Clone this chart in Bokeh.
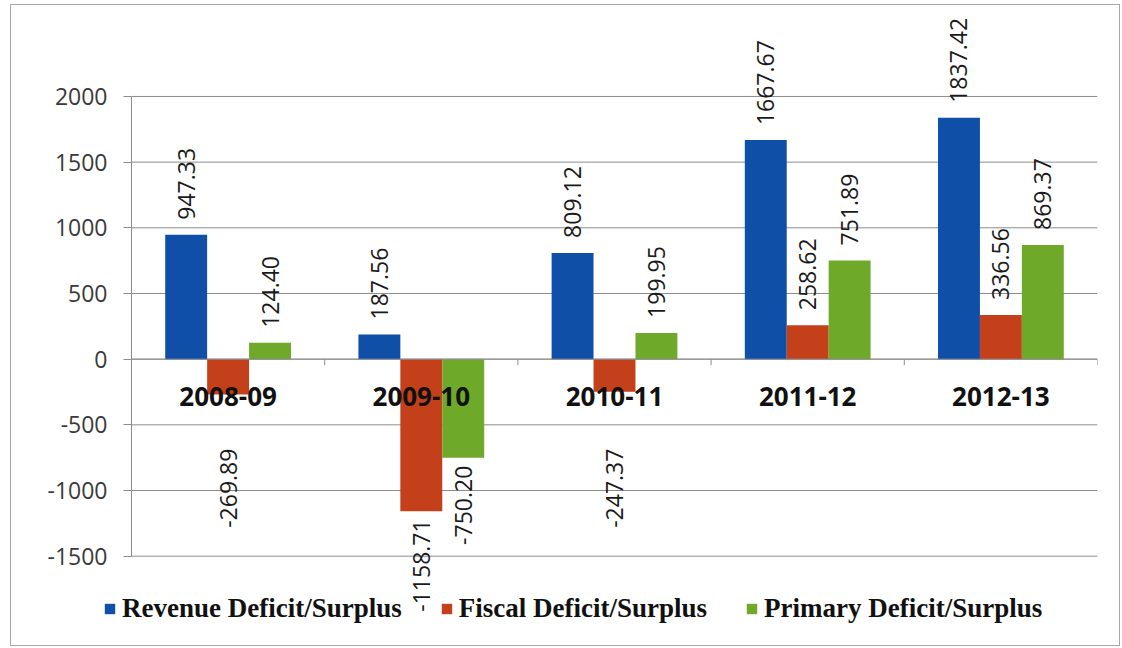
import numpy as np
from bokeh.plotting import figure
from bokeh.models import Range1d, FixedTicker, ColumnDataSource, Legend, LegendItem
from bokeh.core.properties import value
from bokeh.embed import file_html
from bokeh.resources import INLINE

categories = ["2008-09", "2009-10", "2010-11", "2011-12", "2012-13"]
series_names = ["Revenue Deficit/Surplus", "Fiscal Deficit/Surplus", "Primary Deficit/Surplus"]
revenue = [947.33, 187.56, 809.12, 1667.67, 1837.42]
fiscal = [-269.89, -1158.71, -247.37, 258.62, 336.56]
primary = [124.40, -750.20, 199.95, 751.89, 869.37]
y_ticks = [-1500, -1000, -500, 0, 500, 1000, 1500, 2000]
colors = ["#0F4FA8", "#C3401A", "#6EA92A"]

n = len(categories)
centers = np.arange(n) + 0.5
bar_w = 0.217
offsets = [-bar_w, 0.0, bar_w]
GRID = "#8c8c8c"
LABEL_FONT = "Open Sans"

# frame geometry (pixels) and data extents it shows
FRAME_LEFT_PAD = 27
FRAME_W, FRAME_H = 1059, 626
PX_PER_CATEGORY = 193.2
X_LEFT = -(FRAME_W - n * PX_PER_CATEGORY) / PX_PER_CATEGORY
Y_TOP, Y_BOTTOM = 2624, -2142
units_per_px = (Y_TOP - Y_BOTTOM) / FRAME_H

p = figure(frame_width=FRAME_W, frame_height=FRAME_H, output_backend="svg",
           toolbar_location=None,
           x_range=Range1d(X_LEFT, n), y_range=Range1d(Y_BOTTOM, Y_TOP),
           min_border_left=FRAME_LEFT_PAD, min_border_right=22, min_border_top=9,
           min_border_bottom=5)
p.outline_line_color = None
p.background_fill_color = "white"
p.border_fill_color = "white"
p.styles = {"border": "1px solid #a8a8a8", "margin-left": "10px", "margin-top": "4px"}
p.xgrid.visible = False
p.ygrid.visible = False
p.xaxis.visible = False

# horizontal gridlines spanning only the category area
p.segment(x0=[0] * len(y_ticks), y0=y_ticks, x1=[n] * len(y_ticks), y1=y_ticks,
          line_color=GRID, line_width=1)

# y axis placed at the start of the categories
p.yaxis.fixed_location = 0
p.yaxis.bounds = (min(y_ticks), max(y_ticks))
p.yaxis.ticker = FixedTicker(ticks=y_ticks)
p.yaxis.major_label_overrides = {t: str(t) for t in y_ticks}
p.yaxis.axis_line_color = GRID
p.yaxis.major_tick_out = 8
p.yaxis.major_tick_in = 0
p.yaxis.minor_tick_out = 0
p.yaxis.minor_tick_in = 0
p.yaxis.major_tick_line_color = GRID
p.yaxis.major_label_text_font = LABEL_FONT
p.yaxis.major_label_text_font_size = "23px"
p.yaxis.major_label_text_color = "#3a3a3a"
p.yaxis.major_label_standoff = 16

items = []
for j, (name, vals) in enumerate(zip(series_names, [revenue, fiscal, primary])):
    xs = centers + offsets[j]
    src = ColumnDataSource(dict(x=xs, top=vals))
    r = p.vbar(x="x", top="top", bottom=0, width=bar_w, source=src,
               fill_color=colors[j], line_color=None)
    items.append(LegendItem(label=name, renderers=[r]))

# category axis at zero: line, boundary ticks, labels
p.segment(x0=[0], y0=[0], x1=[n], y1=[0], line_color=GRID, line_width=1)
bounds = list(range(n + 1))
p.segment(x0=bounds, y0=[0] * len(bounds), x1=bounds, y1=[-6 * units_per_px] * len(bounds),
          line_color=GRID, line_width=1)
p.text(x=centers, y=[0] * n, text=categories, text_align="center", text_baseline="top",
       y_offset=28, text_font=value(LABEL_FONT), text_font_style="bold",
       text_font_size="26px", text_color="#111111")

# data labels
for off, vals in zip(offsets, [revenue, fiscal, primary]):
    xs = centers + off
    pos = [v for v in vals if v >= 0]
    pos_x = [x for x, v in zip(xs, vals) if v >= 0]
    neg = [v for v in vals if v < 0]
    neg_x = [x for x, v in zip(xs, vals) if v < 0]
    p.text(x=pos_x, y=pos, text=[f"{v:.2f}" for v in pos], angle=np.pi / 2,
           text_align="left", text_baseline="middle", y_offset=-15,
           text_font=value(LABEL_FONT), text_font_size="23px", text_color="#1a1a1a")
    p.text(x=neg_x, y=[min(v, -620) for v in neg], text=[f"{v:.2f}" for v in neg],
           angle=np.pi / 2, text_align="right", text_baseline="middle", y_offset=8,
           text_font=value(LABEL_FONT), text_font_size="23px", text_color="#1a1a1a")

legend_x = (FRAME_W - n * PX_PER_CATEGORY) - 28
legend = Legend(items=items, orientation="horizontal", location=(legend_x, 16),
                label_text_font="Liberation Serif", label_text_font_style="bold",
                label_text_font_size="27px", label_text_color="#111111",
                glyph_width=13, glyph_height=13, label_standoff=6, spacing=38,
                border_line_color=None, background_fill_alpha=0, padding=4, margin=0)
p.add_layout(legend)

open("out.html", "w").write(file_html(p, INLINE))
